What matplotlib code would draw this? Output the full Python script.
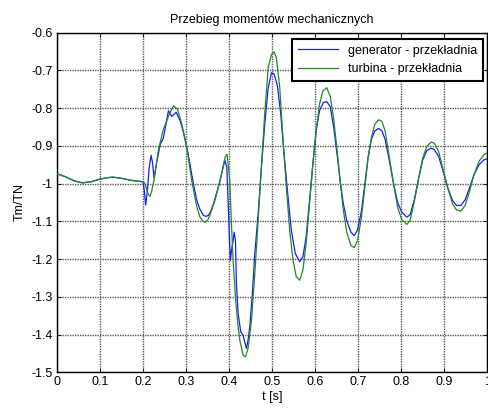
import matplotlib
matplotlib.use("Agg")
import matplotlib.pyplot as plt
from matplotlib.ticker import FixedLocator, FixedFormatter

# values
gen_t = [0.0, 0.02, 0.04, 0.06, 0.08, 0.10, 0.12, 0.13, 0.15, 0.17, 0.19, 0.200,
         0.203, 0.206, 0.210, 0.214, 0.2186, 0.222, 0.2256, 0.230, 0.2395, 0.247,
         0.253, 0.259, 0.2667, 0.277, 0.286, 0.293, 0.300, 0.307, 0.313, 0.319,
         0.325, 0.332, 0.340, 0.346, 0.352, 0.358, 0.3636, 0.371, 0.379, 0.385,
         0.390, 0.3946, 0.3977, 0.4008, 0.403, 0.4054, 0.4093, 0.4116, 0.4147,
         0.417, 0.4209, 0.4271, 0.4326, 0.4364, 0.4403, 0.444, 0.448, 0.4535,
         0.4597, 0.4674, 0.475, 0.483, 0.4908, 0.4985, 0.5046, 0.5123, 0.52,
         0.5277, 0.537, 0.5446, 0.5538, 0.5638, 0.5715, 0.579, 0.5869, 0.5946,
         0.6023, 0.61, 0.6192, 0.627, 0.635, 0.6427, 0.6504, 0.658, 0.6656,
         0.6733, 0.6832, 0.6908, 0.6985, 0.7076, 0.7153, 0.7229, 0.7305, 0.7382,
         0.7473, 0.755, 0.7626, 0.7725, 0.7824, 0.7916, 0.8008, 0.8131, 0.8208,
         0.8308, 0.8408, 0.85, 0.8592, 0.8692, 0.8769, 0.8869, 0.8962, 0.9077,
         0.9192, 0.9285, 0.9385, 0.9485, 0.9592, 0.9692, 0.9808, 0.9923, 1.0]
gen_v = [-0.974, -0.982, -0.993, -0.998, -0.995, -0.988, -0.984, -0.983, -0.986,
         -0.991, -0.994, -0.995,
         -1.02, -1.057, -1.02, -0.96, -0.925, -0.945, -0.985, -0.955, -0.897, -0.88,
         -0.845, -0.807, -0.822, -0.811, -0.833, -0.86, -0.895, -0.935, -0.975,
         -1.012, -1.045, -1.068, -1.084, -1.087, -1.084, -1.072, -1.054, -1.025,
         -0.992, -0.962,
         -0.938, -0.957, -1.045, -1.151, -1.204, -1.178, -1.151, -1.129, -1.151,
         -1.266, -1.345, -1.393, -1.402, -1.42, -1.437, -1.415, -1.38, -1.30,
         -1.186, -1.081, -0.957, -0.84, -0.746, -0.706, -0.71, -0.741, -0.816,
         -0.922, -1.036, -1.124, -1.185, -1.207, -1.194, -1.141, -1.045, -0.948,
         -0.86, -0.807, -0.785, -0.783, -0.796, -0.848, -0.918, -0.993, -1.054,
         -1.098, -1.129, -1.138, -1.123, -1.072, -1.002, -0.932, -0.883, -0.861,
         -0.854, -0.86, -0.883, -0.94, -1.002, -1.05, -1.075, -1.089, -1.082,
         -1.041, -0.984, -0.937, -0.913, -0.906, -0.91, -0.928, -0.963, -1.01,
         -1.045, -1.058, -1.058, -1.043, -1.01, -0.976, -0.95, -0.937, -0.934]

tur_t = [0.0, 0.02, 0.04, 0.06, 0.08, 0.10, 0.12, 0.13, 0.15, 0.17, 0.19, 0.200,
         0.203, 0.207, 0.212, 0.2163, 0.220, 0.2256, 0.2357, 0.247, 0.2612,
         0.2705, 0.28, 0.29, 0.3016, 0.313, 0.325, 0.332, 0.340, 0.346, 0.352,
         0.358, 0.367, 0.379, 0.3907, 0.3953, 0.4016, 0.4054, 0.4093, 0.4147,
         0.4194, 0.4248, 0.4326, 0.438, 0.444, 0.452, 0.4597, 0.4674, 0.475,
         0.483, 0.4908, 0.4985, 0.5046, 0.51, 0.5177, 0.5254, 0.533, 0.5408,
         0.5485, 0.556, 0.5638, 0.5715, 0.579, 0.5869, 0.5946, 0.6023, 0.61,
         0.6177, 0.627, 0.635, 0.6427, 0.6504, 0.658, 0.6656, 0.6733, 0.6832,
         0.6908, 0.6985, 0.7076, 0.7153, 0.7229, 0.7305, 0.7382, 0.7473, 0.755,
         0.7626, 0.7725, 0.7824, 0.7916, 0.8008, 0.8131, 0.8208, 0.8308, 0.8408,
         0.85, 0.8592, 0.8692, 0.8769, 0.8869, 0.8962, 0.9077, 0.9192, 0.9285,
         0.9385, 0.9485, 0.9592, 0.9692, 0.9808, 0.9923, 1.0]
tur_v = [-0.974, -0.982, -0.993, -0.998, -0.995, -0.988, -0.984, -0.983, -0.986,
         -0.991, -0.994, -0.995,
         -0.998, -1.01, -1.028, -1.034, -1.02, -0.99, -0.91, -0.857, -0.816,
         -0.794, -0.803, -0.842, -0.904, -0.992, -1.062, -1.088, -1.101, -1.102,
         -1.093, -1.075, -1.044, -0.992, -0.930, -0.922, -0.993, -1.107, -1.204,
         -1.301, -1.363, -1.415, -1.455, -1.459, -1.437, -1.363, -1.239, -1.098,
         -0.957, -0.81, -0.693, -0.658, -0.651, -0.667, -0.746, -0.886, -1.01,
         -1.124, -1.203, -1.247, -1.256, -1.229, -1.159, -1.053, -0.948, -0.86,
         -0.79, -0.755, -0.746, -0.769, -0.826, -0.905, -0.993, -1.072, -1.129,
         -1.164, -1.17, -1.151, -1.089, -1.011, -0.932, -0.879, -0.844, -0.831,
         -0.835, -0.861, -0.932, -1.002, -1.063, -1.095, -1.108, -1.097, -1.045,
         -0.984, -0.932, -0.902, -0.89, -0.893, -0.915, -0.958, -1.01, -1.054,
         -1.07, -1.073, -1.058, -1.019, -0.976, -0.941, -0.923, -0.919]

x_ticks = [0, 0.1, 0.2, 0.3, 0.4, 0.5, 0.6, 0.7, 0.8, 0.9, 1.0]
x_labels = ["0", "0.1", "0.2", "0.3", "0.4", "0.5", "0.6", "0.7", "0.8", "0.9", "1"]
y_ticks = [-1.5, -1.4, -1.3, -1.2, -1.1, -1.0, -0.9, -0.8, -0.7, -0.6]
y_labels = ["-1.5", "-1.4", "-1.3", "-1.2", "-1.1", "-1", "-0.9", "-0.8", "-0.7", "-0.6"]

plt.rcParams['font.family'] = ['Liberation Sans', 'DejaVu Sans']
plt.rcParams['font.size'] = 9

fig = plt.figure(figsize=(4.89, 4.08), dpi=100)
ax = fig.add_axes([57 / 489, 1 - 372.3 / 408, 430.3 / 489, 339.7 / 408])

ax.plot(gen_t, gen_v, color='#1a1aff', lw=0.9, zorder=3, label='generator - przekładnia')
ax.plot(tur_t, tur_v, color='#1e8c1e', lw=0.9, zorder=3, label='turbina - przekładnia')

ax.set_xlim(0, 1)
ax.set_ylim(-1.5, -0.6)
ax.xaxis.set_major_locator(FixedLocator(x_ticks))
ax.xaxis.set_major_formatter(FixedFormatter(x_labels))
ax.yaxis.set_major_locator(FixedLocator(y_ticks))
ax.yaxis.set_major_formatter(FixedFormatter(y_labels))
ax.tick_params(direction='in', top=True, right=True, length=3, width=0.6,
               labelsize=9, pad=3)
ax.grid(True, which='major', axis='both', color='0.35',
        linestyle=(0, (1, 0.8)), linewidth=1.0)
for s in ax.spines.values():
    s.set_linewidth(1.0)

ax.set_title('Przebieg momentów mechanicznych', fontsize=9, pad=7)
ax.set_xlabel('t [s]', fontsize=9, labelpad=2)
ax.set_ylabel('Tm/TN', fontsize=9, labelpad=4)

leg = ax.legend(loc='upper right', bbox_to_anchor=(0.990, 0.981), borderaxespad=0,
                fancybox=False, framealpha=1, edgecolor='black', fontsize=9,
                handlelength=3.2, labelspacing=0.5, borderpad=0.45)
leg.get_frame().set_linewidth(1.5)
leg.set_zorder(5)

fig.savefig('out.png', dpi=100)
